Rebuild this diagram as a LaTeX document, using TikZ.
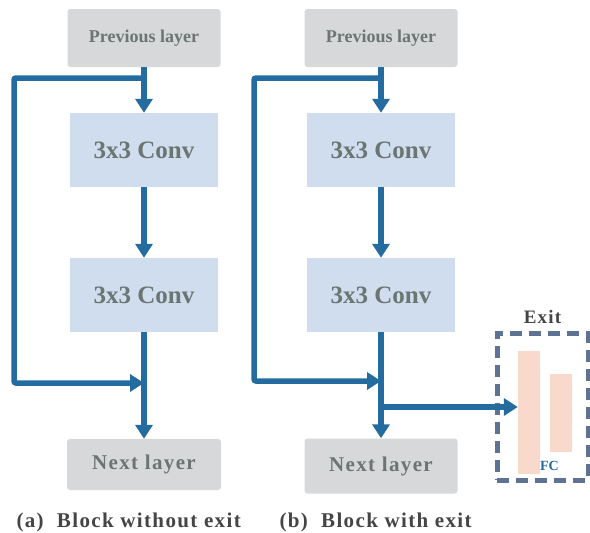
\documentclass[tikz,border=0pt]{standalone}
\usepackage{fontspec}
\setmainfont{Liberation Serif}
\newfontfamily\spacedfont[LetterSpace=6.5]{Liberation Serif}
\usetikzlibrary{arrows.meta,positioning,calc}

\definecolor{flowblue}{HTML}{246BA0}
\definecolor{layergray}{HTML}{D7D8DA}
\definecolor{convblue}{HTML}{CFDDEF}
\definecolor{textgray}{HTML}{6B7571}
\definecolor{exitgray}{HTML}{5E7294}
\definecolor{fcpink}{HTML}{FAD9CD}
\definecolor{capgray}{HTML}{454545}

\begin{document}
\begin{tikzpicture}[x=1pt,y=-1pt,>={Triangle[width=17pt,length=14pt]},
  layer/.style={fill=layergray,rounded corners=3pt,inner sep=0pt,text=textgray,
    font=\fontsize{18}{20}\selectfont\bfseries},
  conv/.style={fill=convblue,inner sep=0pt,minimum width=148pt,minimum height=74pt,
    text=textgray,font=\fontsize{25}{28}\selectfont\bfseries},
  flow/.style={draw=flowblue,line width=5.5pt,rounded corners=2pt},
  caption/.style={text=capgray,font=\spacedfont\fontsize{21}{24}\selectfont\bfseries,anchor=base west}]
\useasboundingbox (0,0) rectangle (590,533);

% (a) block without exit
\node[layer,minimum width=153pt,minimum height=58pt] (prevA) at (144,38) {Previous layer};
\node[conv] (convA1) at (144,150) {3x3 Conv};
\node[conv] (convA2) at (144,295) {3x3 Conv};
\node[layer,minimum width=154pt,minimum height=51pt,font=\spacedfont\fontsize{21}{24}\selectfont\bfseries] (nextA) at (144,464.5) {Next layer};
\coordinate (splitA) at (144,78);
\coordinate (joinA) at (144,383);
\draw[flow,->] (prevA.south) -- (convA1.north);
\draw[flow,->] (convA1.south) -- (convA2.north);
\draw[flow,->] (convA2.south) -- (nextA.north);
\draw[flow,->] (splitA) -| (14,383) -- (joinA);

% (b) block with exit
\node[layer,minimum width=153pt,minimum height=58pt] (prevB) at (381,38) {Previous layer};
\node[conv] (convB1) at (381,150) {3x3 Conv};
\node[conv] (convB2) at (381,295) {3x3 Conv};
\node[layer,minimum width=153pt,minimum height=55pt,font=\spacedfont\fontsize{21}{24}\selectfont\bfseries] (nextB) at (381,466) {Next layer};
\coordinate (splitB) at (381,78);
\coordinate (joinB) at (381,381);
\coordinate (branchB) at (381,407);

% exit
\node[draw=exitgray,line width=5pt,dash pattern=on 12pt off 7pt,minimum width=91pt,minimum height=147pt,inner sep=0pt] (exitbox) at (542.5,406.5) {};
\node[text=capgray,font=\spacedfont\fontsize{19}{22}\selectfont\bfseries,above=3pt of exitbox] (exitlbl) {Exit};
\node[fill=fcpink,minimum width=22pt,minimum height=123pt,inner sep=0pt] (fc1) at (529,412.5) {};
\node[fill=fcpink,minimum width=22pt,minimum height=78pt,inner sep=0pt] (fc2) at (561,413) {};
\node[text=flowblue,font=\fontsize{14}{16}\selectfont\bfseries] (fclbl) at (549.5,466) {FC};

\draw[flow,->] (prevB.south) -- (convB1.north);
\draw[flow,->] (convB1.south) -- (convB2.north);
\draw[flow,->] (convB2.south) -- (nextB.north);
\draw[flow,->] (splitB) -| (254,381) -- (joinB);
\draw[flow,->] (branchB) -- (branchB -| fc1.west);

% captions
\node[caption] (capA) at (13,527) {(a)\ \ Block without exit};
\node[caption] (capB) at (276,527) {(b)\ \ Block with exit};
\end{tikzpicture}
\end{document}
